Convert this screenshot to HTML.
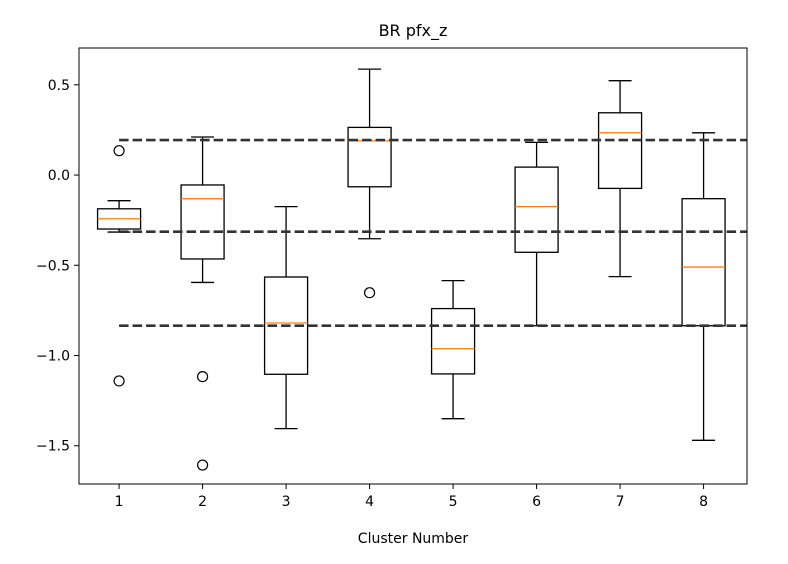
<!DOCTYPE html>
<html><head><meta charset="utf-8"><style>
html,body{margin:0;padding:0;background:#fff;}
svg{display:block;font-family:"DejaVu Sans","Liberation Sans",sans-serif;}
</style></head><body>
<svg id="chart" width="788" height="564">
<text x="413" y="36" text-anchor="middle" font-size="16" fill="#000">BR pfx_z</text>
<text x="413" y="543" text-anchor="middle" font-size="14" fill="#000">Cluster Number</text>
<g id="plot"></g>
</svg>
<script>
const categories = ["1","2","3","4","5","6","7","8"];
const whiskerHigh = [-0.142, 0.211, -0.175, 0.587, -0.585, 0.181, 0.523, 0.234];
const q3Values = [-0.187, -0.055, -0.565, 0.264, -0.740, 0.044, 0.345, -0.131];
const medians = [-0.242, -0.131, -0.820, 0.190, -0.962, -0.175, 0.234, -0.510];
const q1Values = [-0.299, -0.465, -1.104, -0.065, -1.102, -0.428, -0.074, -0.835];
const whiskerLow = [-0.316, -0.595, -1.405, -0.353, -1.350, -0.835, -0.563, -1.470];
const fliers = [[0.135, -1.141], [-1.117, -1.607], [], [-0.652], [], [], [], []];
const refLines = [0.194, -0.314, -0.835];
const yTicks = [0.5, 0.0, -0.5, -1.0, -1.5];
const yTickLabels = ["0.5", "0.0", "\u22120.5", "\u22121.0", "\u22121.5"];

const L = 79, R = 747, T = 48, B = 484;
const yMin = -1.712, yMax = 0.704;
const xs = i => L + (i + 0.5 - 0.02) * (R - L) / 8;
const ys = v => B - (v - yMin) / (yMax - yMin) * (B - T);
const NS = "http://www.w3.org/2000/svg";
const g = document.getElementById('plot');
function mk(tag, attrs, parent) {
  const e = document.createElementNS(NS, tag);
  for (const k in attrs) e.setAttribute(k, attrs[k]);
  (parent || g).appendChild(e);
  return e;
}
const bw = 43, cw = 23;
categories.forEach((c, i) => {
  const grp = mk('g', {});
  
  
  const x = xs(i);
  const st = {stroke: '#000', 'stroke-width': 1.3, fill: 'none'};
  mk('line', Object.assign({x1: x, x2: x, y1: ys(whiskerHigh[i]), y2: ys(q3Values[i])}, st), grp);
  mk('line', Object.assign({x1: x, x2: x, y1: ys(q1Values[i]), y2: ys(whiskerLow[i])}, st), grp);
  mk('line', Object.assign({x1: x - cw/2, x2: x + cw/2, y1: ys(whiskerHigh[i]), y2: ys(whiskerHigh[i])}, st), grp);
  mk('line', Object.assign({x1: x - cw/2, x2: x + cw/2, y1: ys(whiskerLow[i]), y2: ys(whiskerLow[i])}, st), grp);
  mk('rect', Object.assign({x: x - bw/2, y: ys(q3Values[i]), width: bw, height: ys(q1Values[i]) - ys(q3Values[i])}, st), grp);
  mk('line', {x1: x - bw/2, x2: x + bw/2, y1: ys(medians[i]), y2: ys(medians[i]), stroke: '#ff7f0e', 'stroke-width': 1.3}, grp);
  fliers[i].forEach(v => {
    const f = mk('circle', {cx: x, cy: ys(v), r: 5, fill: 'none', stroke: '#000', 'stroke-width': 1.2}, grp);
    
    
  });
  const tk = mk('line', {x1: x, x2: x, y1: B, y2: B + 5, stroke: '#000', 'stroke-width': 1});
  
  
  const tl = mk('text', {x: x, y: B + 22, 'text-anchor': 'middle', 'font-size': 14, fill: '#000'});
  tl.textContent = c;
  
  
});
refLines.forEach(v => {
  const l = mk('line', {x1: xs(0), x2: R, y1: ys(v), y2: ys(v), stroke: '#333', 'stroke-width': 2.6, 'stroke-dasharray': '9.5,4'});
  
  
});
yTicks.forEach((v, i) => {
  const tk = mk('line', {x1: L - 5, x2: L, y1: ys(v), y2: ys(v), stroke: '#000', 'stroke-width': 1});
  
  
  const tl = mk('text', {x: L - 9, y: ys(v) + 5, 'text-anchor': 'end', 'font-size': 14, fill: '#000'});
  tl.textContent = yTickLabels[i];
  
  
});
const frame = mk('rect', {x: L, y: T, width: R - L, height: B - T, fill: 'none', stroke: '#000', 'stroke-width': 1});


</script>
</body></html>
